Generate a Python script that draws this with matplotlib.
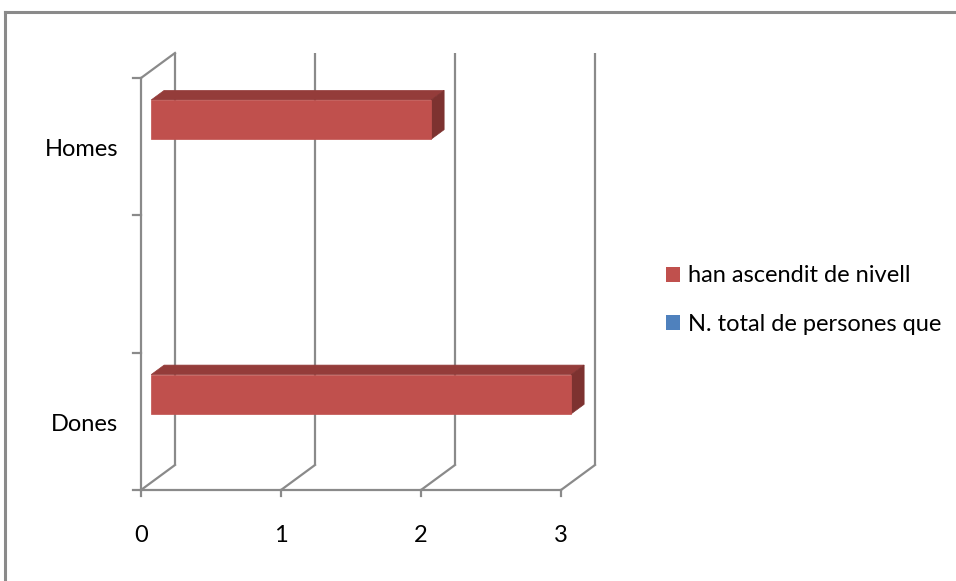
import numpy as np
import matplotlib
matplotlib.use("Agg")
import matplotlib.pyplot as plt
from matplotlib.patches import Polygon, Patch
from matplotlib.lines import Line2D

plt.rcParams['font.family'] = ['Lato', 'DejaVu Sans']

# categories from bottom to top (the middle row has no label)
categories = ["Dones", "", "Homes"]
han_ascendit = [3, 0, 2]
n_total = [0, 0, 0]
series_names = ["han ascendit de nivell", "N. total de persones que"]
x_ticks = [0, 1, 2, 3]

red_front = "#C0504D"
red_top = "#943C3A"
red_side = "#7D3230"
blue = "#4F81BD"
grid_col = "#8a8a8a"
fs = 17

# oblique projection of the 3d box: depth 1 shifts by (DX, DY) in data units
DX = 34 / 140
DY = 25 / 137.3


def proj(x, y, d):
    return x + d * DX, y + d * DY


fig = plt.figure(figsize=(9.56, 5.81), dpi=100)
ax = fig.add_axes([141 / 956, 91 / 581, 420 / 956, 412 / 581])
ax.set_xlim(0, 3)
ax.set_ylim(0, 3)
ax.axis('off')

lw = 1.6
n_cat = len(categories)

# back wall gridlines and floor diagonals
for v in x_ticks:
    bx0, by0 = proj(v, 0, 1)
    bx1, by1 = proj(v, n_cat, 1)
    ax.plot([bx0, bx1], [by0, by1], color=grid_col, lw=lw, clip_on=False,
            solid_capstyle='butt')
    ax.plot([v, bx0], [0, by0], color=grid_col, lw=lw, clip_on=False)
    ax.plot([v, v], [0, -0.045], color=grid_col, lw=lw, clip_on=False)
    ax.text(v, -0.33, str(v), ha='center', va='center', fontsize=fs)

# front axes lines
ax.plot([0, 3], [0, 0], color=grid_col, lw=lw, clip_on=False)
ax.plot([0, 0], [0, n_cat], color=grid_col, lw=lw, clip_on=False)
tx, ty = proj(0, n_cat, 1)
ax.plot([0, tx], [n_cat, ty], color=grid_col, lw=lw, clip_on=False)
for i in range(n_cat + 1):
    ax.plot([-0.055, 0], [i, i], color=grid_col, lw=lw, clip_on=False)

for i, name in enumerate(categories):
    ax.text(-0.165, i + 0.48, name, ha='right', va='center', fontsize=fs)

# 3d bars: each category holds two slots, gap width 150 %
slot = 1 / 3.5
d0, d1 = 0.3, 0.68


def bar3d(x, y0, h, cols):
    front = [proj(0, y0, d0), proj(x, y0, d0), proj(x, y0 + h, d0), proj(0, y0 + h, d0)]
    top = [proj(0, y0 + h, d0), proj(x, y0 + h, d0), proj(x, y0 + h, d1), proj(0, y0 + h, d1)]
    side = [proj(x, y0, d0), proj(x, y0, d1), proj(x, y0 + h, d1), proj(x, y0 + h, d0)]
    for pts, c in zip([top, side, front], cols):
        ax.add_patch(Polygon(pts, closed=True, facecolor=c, edgecolor=c,
                             lw=0.5, clip_on=False, zorder=3))


for i in range(n_cat):
    if han_ascendit[i] > 0:
        bar3d(han_ascendit[i], i + 0.5, slot, [red_top, red_side, red_front])
    if n_total[i] > 0:
        bar3d(n_total[i], i + 0.5 - slot, slot, [blue, blue, blue])

# legend
handles = [Patch(facecolor=red_front, edgecolor='none'),
           Patch(facecolor=blue, edgecolor='none')]
fig.legend(handles, series_names, loc='center left',
           bbox_to_anchor=(645 / 956, 1 - 300 / 581), frameon=False,
           fontsize=fs, handlelength=0.6, handleheight=0.6,
           handletextpad=0.34, labelspacing=1.15)

# outer chart border (extends past the right and bottom edges)
fig.add_artist(Line2D([5 / 956, 1.0], [1 - 11.5 / 581, 1 - 11.5 / 581],
                      color=grid_col, lw=2.2, transform=fig.transFigure))
fig.add_artist(Line2D([5 / 956, 5 / 956], [0, 1 - 11.5 / 581],
                      color=grid_col, lw=2.2, transform=fig.transFigure))

fig.savefig("out.png", dpi=100, facecolor='white')
